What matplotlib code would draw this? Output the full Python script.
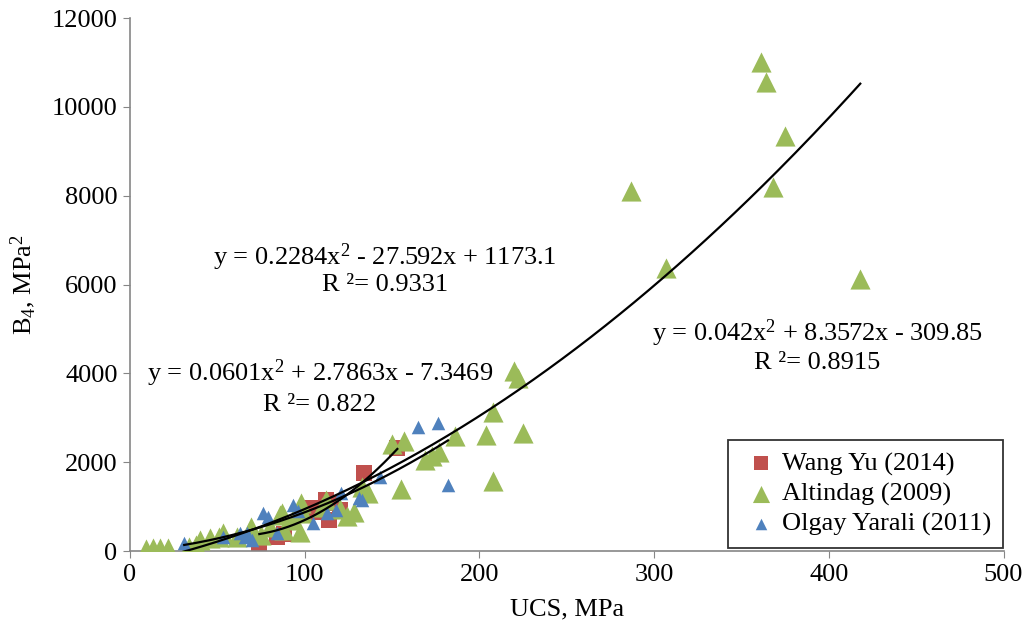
import matplotlib
matplotlib.use("Agg")
import matplotlib.pyplot as plt
import numpy as np

plt.rcParams["font.family"] = ["Liberation Serif", "DejaVu Serif"]
plt.rcParams["mathtext.fontset"] = "custom"
plt.rcParams["mathtext.rm"] = "Liberation Serif"
plt.rcParams["mathtext.it"] = "Liberation Serif:italic"

# Wang Yu (2014)
wang_ucs = [153, 134, 114, 120, 114, 104, 112, 84, 74, 88, 102, 100, 108]
wang_b4 = [2320, 1760, 1080, 920, 700, 970, 1150, 320, 180, 380, 920, 800, 880]

# Altindag (2009)
alt_ucs = [361, 364, 375, 368, 287, 307, 418, 220, 222, 208, 204, 225, 186,
           157, 150, 177, 173, 169, 208, 155, 136, 133, 128, 124, 112, 99,
           97, 98, 93, 86, 87, 88, 80, 69, 68, 61, 53, 51, 46, 40, 38, 34,
           22, 17, 13, 9, 110, 120, 75]
alt_b4 = [11000, 10550, 9350, 8200, 8100, 6380, 6120, 4050, 3900, 3120, 2620,
          2650, 2580, 2480, 2400, 2230, 2150, 2050, 1580, 1400, 1300, 1440, 870,
          790, 1150, 860, 420, 1080, 700, 810, 850, 470, 540, 540, 430, 320,
          400, 320, 290, 250, 130, 90, 70, 60, 60, 50, 1000, 950, 350]

# Olgay Yarali (2011)
olg_ucs = [176, 165, 182, 143, 133, 131, 121, 118, 113, 105, 93, 84, 76, 79,
           70, 67, 53, 31, 66, 63, 96]
olg_b4 = [2880, 2790, 1490, 1670, 1150, 1200, 1300, 920, 850, 630, 1040, 400,
          850, 770, 250, 400, 320, 180, 320, 400, 900]

# polynomial trend lines (coefficients as printed on the chart)
wang_fit = [0.2284, -27.592, 1173.1]
alt_fit = [0.042, 8.3572, -309.85]
olg_fit = [0.0601, 2.7863, -7.3469]

RED = "#C0504D"
GREEN = "#9BBB59"
BLUE = "#4F81BD"
GRAY = "#868686"
FS = 19

fig = plt.figure(figsize=(10.24, 6.33), dpi=100)
ax = fig.add_axes([0.127, 0.1295, 0.853, 0.842])

ax.scatter(wang_ucs, wang_b4, marker="s", s=125, color=RED, linewidths=0,
           label="Wang Yu (2014)", zorder=2)
ax.scatter(alt_ucs, alt_b4, marker="^", s=210, color=GREEN, linewidths=0,
           label="Altindag (2009)", zorder=3)
ax.scatter(olg_ucs, olg_b4, marker="^", s=95, color=BLUE, linewidths=0,
           label="Olgay Yarali (2011)", zorder=4)

for xs, coef in ((wang_ucs, wang_fit), (alt_ucs, alt_fit), (olg_ucs, olg_fit)):
    xx = np.linspace(min(xs), max(xs), 200)
    ax.plot(xx, np.polyval(coef, xx), color="black", lw=1.6, zorder=5)

ax.set_xlim(0, 500)
ax.set_ylim(0, 12000)
ax.set_xticks(range(0, 501, 100))
ax.set_yticks(range(0, 12001, 2000))
ax.tick_params(direction="out", length=5, color=GRAY, labelsize=FS, pad=4)
for side in ("top", "right"):
    ax.spines[side].set_visible(False)
for side in ("left", "bottom"):
    ax.spines[side].set_color(GRAY)
    ax.spines[side].set_linewidth(1.2)

ax.set_xlabel("UCS, MPa", fontsize=FS, labelpad=9)
ax.set_ylabel(r"B$_{4}$, MPa$^{2}$", fontsize=FS, labelpad=10)

ax.text(146, 6620, r"y = 0.2284x$^{2}$ - 27.592x + 1173.1", fontsize=FS,
        ha="center", va="center")
ax.text(146, 5990, "R ²= 0.9331", fontsize=FS, ha="center", va="center")
ax.text(108.6, 4010, r"y = 0.0601x$^{2}$ + 2.7863x - 7.3469", fontsize=FS,
        ha="center", va="center")
ax.text(108.6, 3290, "R ²= 0.822", fontsize=FS, ha="center", va="center")
ax.text(393.3, 4910, r"y = 0.042x$^{2}$ + 8.3572x - 309.85", fontsize=FS,
        ha="center", va="center")
ax.text(393.3, 4230, "R ²= 0.8915", fontsize=FS, ha="center", va="center")

leg = ax.legend(loc="lower right", bbox_to_anchor=(0.9995, 0.005), fontsize=FS,
                frameon=True, fancybox=False, edgecolor="black",
                handletextpad=0.0, handlelength=1.6, labelspacing=0.25,
                borderpad=0.45, borderaxespad=0.0, markerscale=0.85)
leg.get_frame().set_linewidth(1.3)
leg.set_zorder(10)

fig.savefig("out.png", dpi=100)
